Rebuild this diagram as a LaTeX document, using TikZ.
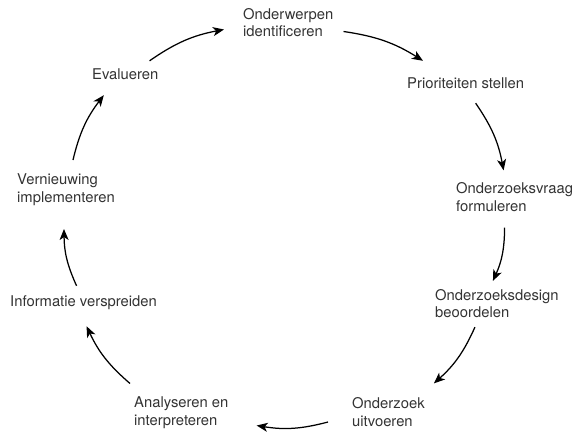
\documentclass[tikz,border=0pt]{standalone}
\usepackage{fontspec}
\setmainfont{TeX Gyre Heros}
\usetikzlibrary{arrows.meta}
\definecolor{txtgray}{HTML}{333333}
\begin{document}
\begin{tikzpicture}[x = 1pt, y = -1pt,
	lbl/.style = {anchor = west, inner sep = 0pt, align = left, text = txtgray,
		font = \fontsize{14.8}{17.6}\selectfont},
	cyc/.style = {line width = 1.25pt, bend left = 12,
		-{Stealth[length = 11pt, width = 9pt, inset = 3pt]}}]
	\useasboundingbox (0, 0) rectangle (572, 432);
	
	\node[lbl] (onder) at (243, 22.5) {Onderwerpen\\identificeren};
	\node[lbl] (prio) at (407, 83.5) {Prioriteiten stellen};
	\node[lbl] (vraag) at (456, 197) {Onderzoeksvraag\\formuleren};
	\node[lbl] (design) at (435, 303.5) {Onderzoeksdesign\\beoordelen};
	\node[lbl] (uitvoer) at (352, 412) {Onderzoek\\uitvoeren};
	\node[lbl] (analyse) at (134, 412.5) {Analyseren en\\interpreteren};
	\node[lbl] (info) at (10, 303) {Informatie verspreiden};
	\node[lbl] (vern) at (17, 190) {Vernieuwing\\implementeren};
	\node[lbl] (eval) at (92, 74.5) {Evalueren};
	
	\draw[cyc] ([shift = {(-9, -8)}]eval.north east) to ([shift = {(-19, 7)}]onder.west);
	\draw[cyc] ([shift = {(10, 9)}]onder.east) to ([shift = {(16, -17)}]prio.north west);
	\draw[cyc] ([shift = {(10, 14)}]prio.south) to ([shift = {(-11, -12)}]vraag.north);
	\draw[cyc] ([shift = {(-10, 16)}]vraag.south) to ([shift = {(-4, -8)}]design.north);
	\draw[cyc] ([shift = {(-22, 9)}]design.south) to ([shift = {(9, -14)}]uitvoer.north east);
	\draw[cyc] ([shift = {(-24, 10)}]uitvoer.west) to ([shift = {(28, 13)}]analyse.east);
	\draw[cyc] ([shift = {(-4, -13)}]analyse.north west) to ([shift = {(3, 16)}]info.south);
	\draw[cyc] ([shift = {(-7, -10)}]info.north) to ([shift = {(-2, 23)}]vern.south);
	\draw[cyc] ([shift = {(7, -14)}]vern.north) to ([shift = {(-21.5, 15)}]eval.south);
\end{tikzpicture}
\end{document}
